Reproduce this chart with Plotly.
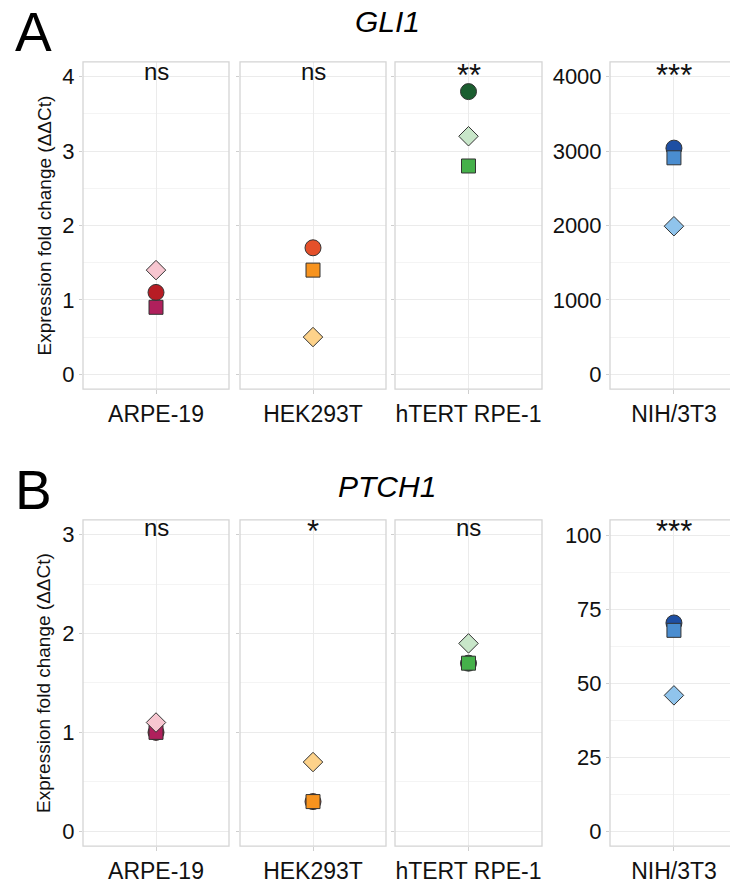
import plotly.graph_objects as go

# ---------------- data ----------------
cell_lines = ["ARPE-19", "HEK293T", "hTERT RPE-1", "NIH/3T3"]

gli1_circle = [1.1, 1.7, 3.8, 3040]
gli1_square = [0.9, 1.4, 2.8, 2910]
gli1_diamond = [1.4, 0.5, 3.2, 1990]
gli1_sig = ["ns", "ns", "**", "***"]

ptch1_circle = [1.0, 0.3, 1.7, 70.5]
ptch1_square = [1.0, 0.3, 1.7, 68]
ptch1_diamond = [1.1, 0.7, 1.9, 46]
ptch1_sig = ["ns", "*", "ns", "***"]

circle_colors = ["#B71C24", "#E4502A", "#1B5E30", "#1E4FA3"]
square_colors = ["#B0205C", "#F7931E", "#45B04A", "#4A8DD0"]
diamond_colors = ["#F7C6D0", "#FDD28A", "#C8E6C9", "#90C4EC"]

gene_titles = ["GLI1", "PTCH1"]
panel_letters = ["A", "B"]
y_title = "Expression fold change (ΔΔCt)"

# ---------------- layout geometry (pixels) ----------------
W, H = 730, 884
FONT = "Liberation Sans, Arial, sans-serif"
px_x = [(83, 229), (240, 386), (395, 542), (610, 730)]
px_y = [(62, 390), (521, 848)]
x_ranges = [[-0.5, 0.5]] * 3 + [[-0.438, 0.384]]
y_ranges = [
    [[-0.2, 4.2]] * 3 + [[-200, 4200]],
    [[-0.15, 3.15]] * 3 + [[-5, 105.4]],
]
y_dticks = [[1, 1, 1, 1000], [1, 1, 1, 25]]

def fx(p):
    return p / W

def fy(p):
    return 1 - p / H

fig = go.Figure()
rows = [
    (gli1_circle, gli1_square, gli1_diamond, gli1_sig),
    (ptch1_circle, ptch1_square, ptch1_diamond, ptch1_sig),
]

GRID = "#EBEBEB"
MINOR = "#F4F4F4"
BORDER = "#D4D4D4"

for r, (circ, sq, dia, sig) in enumerate(rows):
    for c in range(4):
        k = r * 4 + c + 1
        xa = "x" if k == 1 else f"x{k}"
        ya = "y" if k == 1 else f"y{k}"
        cat = [cell_lines[c]]
        for vals, cols, sym, size in (
            (circ, circle_colors, "circle", 16),
            (sq, square_colors, "square", 14),
            (dia, diamond_colors, "diamond", 15),
        ):
            fig.add_trace(go.Scatter(
                x=cat, y=[vals[c]], xaxis=xa, yaxis=ya, mode="markers",
                marker=dict(symbol=sym, size=size, color=cols[c],
                            line=dict(color="#333333", width=1)),
                showlegend=False, hoverinfo="skip", cliponaxis=False,
            ))
        x0, x1 = px_x[c]
        y0, y1 = px_y[r]
        dt = y_dticks[r][c]
        show_labels = c in (0, 3)
        fig.update_layout({
            f"xaxis{k if k > 1 else ''}": dict(
                domain=[fx(x0), fx(x1)], anchor=ya, range=x_ranges[c],
                type="category", showgrid=True, gridcolor=GRID, gridwidth=1,
                zeroline=False, showline=False, ticks="outside", ticklen=4,
                tickcolor="#CFCFCF", tickfont=dict(family=FONT, size=23, color="#111"),
                fixedrange=True,
            ),
            f"yaxis{k if k > 1 else ''}": dict(
                domain=[fy(y1), fy(y0)], anchor=xa, range=y_ranges[r][c],
                tick0=0, dtick=dt, showgrid=True, gridcolor=GRID, gridwidth=1,
                minor=dict(dtick=dt / 2, tick0=0, showgrid=True, gridcolor=MINOR, ticks=""),
                zeroline=False, showline=False, ticks="outside", ticklen=3,
                tickcolor="#CFCFCF", showticklabels=show_labels,
                tickfont=dict(family=FONT, size=22, color="#111"),
                fixedrange=True,
            ),
        })
        fig.add_shape(type="rect", xref="paper", yref="paper",
                      x0=fx(x0), x1=fx(738 if c == 3 else x1),
                      y0=fy(y1), y1=fy(y0),
                      line=dict(color=BORDER, width=1.3), layer="above")
        # significance labels
        is_star = "*" in sig[c]
        base = 87 if r == 0 else 544
        if is_star:
            base += 8
        fig.add_annotation(text=sig[c], xref=xa, yref="paper", x=cell_lines[c],
                           y=fy(base), yanchor="bottom", showarrow=False,
                           font=dict(family=FONT, size=31 if is_star else 24, color="#111"))
    ly = 0 if r == 0 else 459
    fig.add_annotation(text=panel_letters[r], xref="paper", yref="paper",
                       x=fx(33), y=fy(ly), xanchor="center", yanchor="top",
                       showarrow=False, borderpad=0,
                       font=dict(family=FONT, size=55, color="#000"))
    ty = 22 if r == 0 else 488
    fig.add_annotation(text=f"<i>{gene_titles[r]}</i>", xref="paper", yref="paper",
                       x=fx(387), y=fy(ty), xanchor="center", yanchor="middle",
                       showarrow=False, font=dict(family=FONT, size=30, color="#000"))
    yc = (px_y[r][0] + px_y[r][1]) / 2
    fig.add_annotation(text=y_title, xref="paper", yref="paper",
                       x=fx(44), y=fy(yc), xanchor="center", yanchor="middle",
                       textangle=-90, showarrow=False,
                       font=dict(family=FONT, size=19, color="#111"))

fig.update_layout(
    width=W, height=H, margin=dict(l=0, r=0, t=0, b=0),
    paper_bgcolor="white", plot_bgcolor="white",
    font=dict(family=FONT),
)

fig.write_html("out.html")
